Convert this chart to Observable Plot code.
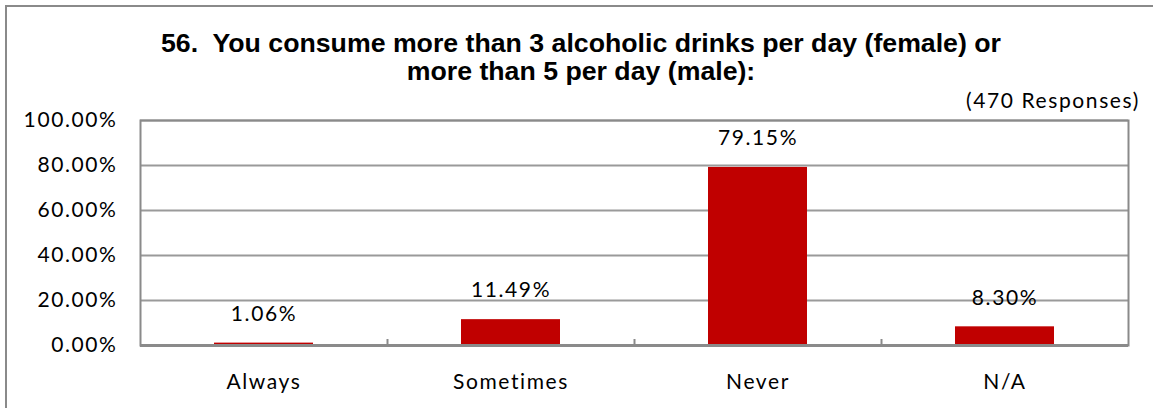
<!DOCTYPE html>
<html>
<head>
<meta charset="utf-8">
<script src="https://cdn.jsdelivr.net/npm/d3@7"></script>
<script src="https://cdn.jsdelivr.net/npm/@observablehq/plot@0.6"></script>
<style>
  html, body { margin: 0; padding: 0; background: #fff; }
  #wrap { position: relative; width: 1153px; height: 408px; overflow: hidden; background: #fff; }
  #border { position: absolute; left: 5px; top: 5px; width: 1300px; height: 600px; border: 2px solid #8a8a8a; box-sizing: border-box; }
  #title { position: absolute; left: 0; top: 29px; width: 1162px; text-align: center;
           font-family: "Liberation Sans", Arial, sans-serif; font-weight: bold; font-size: 26.7px; line-height: 28px; color: #000; white-space: pre; }
  #resp { position: absolute; right: 13px; top: 88px; font-family: Lato, sans-serif; font-size: 21px; line-height: 24px; letter-spacing: 1.6px; color: #000; }
  #chart { position: absolute; left: 0; top: 0; }
</style>
</head>
<body>
<div id="wrap">
  <div id="border"></div>
  <div id="chart"></div>
  <div id="title"></div>
  <div id="resp"></div>
</div>
<script>
const titleLines = ["56.  You consume more than 3 alcoholic drinks per day (female) or", "more than 5 per day (male):"];
const responsesLabel = "(470 Responses)";
const categories = ["Always", "Sometimes", "Never", "N/A"];
const values = [1.06, 11.49, 79.15, 8.30];
const yTicks = [0, 20, 40, 60, 80, 100];

document.getElementById("title").textContent = titleLines.join("\n");
document.getElementById("resp").textContent = responsesLabel;

const data = categories.map((c, i) => ({category: c, value: values[i]}));

const W = 1153, H = 408, mL = 140, mR = 25, mT = 120, mB = 63;
const halfStep = (W - mL - mR) / categories.length / 2;

const chart = Plot.plot({
  width: W,
  height: H,
  marginLeft: mL,
  marginRight: mR,
  marginTop: mT,
  marginBottom: mB,
  style: {fontFamily: "Lato, sans-serif", fontSize: "21px", letterSpacing: "1.6px", color: "#000", background: "transparent"},
  x: {domain: categories, paddingInner: 0.6, paddingOuter: 0.3, tickSize: 0, tickPadding: 29, label: null},
  y: {domain: [0, 100], ticks: yTicks, tickFormat: d => d.toFixed(2) + "%", tickSize: 0, tickPadding: 23, label: null},
  marks: [
    Plot.ruleY(yTicks.filter(d => d > 0), {stroke: "#9a9a9a", strokeWidth: 2}),
    Plot.barY(data, {x: "category", y: "value", fill: "#C00000"}),
    Plot.frame({stroke: "#8a8a8a", strokeWidth: 2}),
    Plot.ruleY([0], {stroke: "#8a8a8a", strokeWidth: 3}),
    Plot.ruleX(categories.slice(1), {x: d => d, dx: -halfStep, insetTop: 219, stroke: "#8a8a8a", strokeWidth: 2}),
    Plot.text(data, {x: "category", y: "value", text: d => d.value.toFixed(2) + "%", dy: -29, fontSize: 21, fill: "#000"})
  ]
});
document.getElementById("chart").appendChild(chart);
</script>
</body>
</html>
